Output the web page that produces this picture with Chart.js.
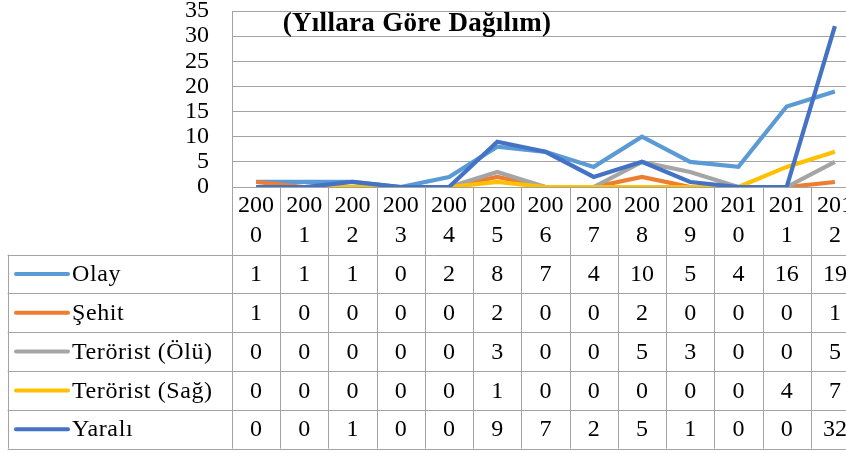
<!DOCTYPE html>
<html>
<head>
<meta charset="utf-8">
<script src="https://cdn.jsdelivr.net/npm/chart.js@4.4.0/dist/chart.umd.min.js"></script>
<style>
  html, body { margin: 0; padding: 0; background: #fff; overflow: hidden; }
  #wrap { position: relative; width: 859px; height: 453px; }
</style>
</head>
<body>
<div id="wrap"><canvas id="olayChart"></canvas></div>
<script>
// yıllar ve seriler
const years = ['2000', '2001', '2002', '2003', '2004', '2005', '2006', '2007', '2008', '2009', '2010', '2011', '2012'];
const olay = [1, 1, 1, 0, 2, 8, 7, 4, 10, 5, 4, 16, 19];
const sehit = [1, 0, 0, 0, 0, 2, 0, 0, 2, 0, 0, 0, 1];
const teroristOlu = [0, 0, 0, 0, 0, 3, 0, 0, 5, 3, 0, 0, 5];
const teroristSag = [0, 0, 0, 0, 0, 1, 0, 0, 0, 0, 0, 4, 7];
const yarali = [0, 0, 1, 0, 0, 9, 7, 2, 5, 1, 0, 0, 32];
const yMax = 35;
const yStep = 5;

const FONT = '"Liberation Serif", "DejaVu Serif", serif';
const GRID = '#a3a3a3';

const series = [
    { label: 'Olay', data: olay, color: '#5B9BD5' },
    { label: 'Şehit', data: sehit, color: '#ED7D31' },
    { label: 'Terörist (Ölü)', data: teroristOlu, color: '#A5A5A5' },
    { label: 'Terörist (Sağ)', data: teroristSag, color: '#FFC000' },
    { label: 'Yaralı', data: yarali, color: '#4472C4' }
];

// Excel tarzı veri tablosu + başlık
const dataTablePlugin = {
    id: 'dataTable',
    afterDraw(chart) {
        const ctx = chart.ctx;
        const area = chart.chartArea;
        const x = chart.scales.x;
        const n = years.length;
        const colW = (area.right - area.left) / n;
        const headerBottom = area.bottom + 67.6;
        const rowH = 38.8;
        const tableBottom = headerBottom + rowH * series.length;
        const legendLeft = 7.7;

        ctx.save();
        ctx.strokeStyle = GRID;
        ctx.lineWidth = 1;
        ctx.beginPath();
        // sütun çizgileri
        for (let i = 0; i <= n; i++) {
            const cx = Math.round(area.left + i * colW) + 0.5;
            ctx.moveTo(cx, area.bottom);
            ctx.lineTo(cx, tableBottom);
        }
        // satır çizgileri
        for (let r = 0; r <= series.length; r++) {
            const cy = Math.round(headerBottom + r * rowH) + 0.5;
            ctx.moveTo(legendLeft, cy);
            ctx.lineTo(area.right, cy);
        }
        ctx.moveTo(Math.round(legendLeft) + 0.5, headerBottom);
        ctx.lineTo(Math.round(legendLeft) + 0.5, tableBottom);
        ctx.stroke();

        ctx.fillStyle = '#000';
        ctx.font = '24px ' + FONT;
        ctx.textBaseline = 'middle';
        ctx.textAlign = 'center';
        // yıl başlıkları (iki satır)
        years.forEach((yr, i) => {
            const cx = x.getPixelForValue(i);
            ctx.fillText(yr.slice(0, 3), cx, area.bottom + 19);
            ctx.fillText(yr.slice(3), cx, area.bottom + 49);
        });
        // değerler ve lejant
        series.forEach((s, r) => {
            const cy = headerBottom + r * rowH + rowH / 2;
            ctx.textAlign = 'center';
            ctx.letterSpacing = '0px';
            s.data.forEach((v, i) => {
                ctx.fillText(String(v), x.getPixelForValue(i), cy + 1);
            });
            ctx.strokeStyle = s.color;
            ctx.lineWidth = 4;
            ctx.lineCap = 'round';
            ctx.beginPath();
            ctx.moveTo(16, cy);
            ctx.lineTo(68, cy);
            ctx.stroke();
            ctx.textAlign = 'left';
            ctx.letterSpacing = '0.6px';
            ctx.fillText(s.label, 72, cy + 1);
        });

        // başlık
        ctx.font = 'bold 27px ' + FONT;
        ctx.letterSpacing = '0.3px';
        ctx.textAlign = 'center';
        ctx.textBaseline = 'alphabetic';
        ctx.fillText('(Yıllara Göre Dağılım)', 417, 31);
        ctx.restore();
    }
};

new Chart(document.getElementById('olayChart'), {
    type: 'line',
    data: {
        labels: years,
        datasets: series.map((s, i) => ({
            label: s.label,
            data: s.data,
            borderColor: s.color,
            backgroundColor: s.color,
            borderWidth: 4.2,
            pointRadius: 0,
            tension: 0,
            order: series.length - i
        }))
    },
    options: {
        responsive: true,
        maintainAspectRatio: false,
        animation: false,
        layout: { padding: { top: 11, bottom: 266, left: 0, right: 0 } },
        plugins: { legend: { display: false }, tooltip: { enabled: false } },
        scales: {
            x: {
                display: false,
                offset: true
            },
            y: {
                min: 0,
                max: yMax,
                afterFit: s => { s.width = 232; s.paddingTop = 0; s.paddingBottom = 0; },
                border: { display: true, color: GRID },
                grid: { color: GRID, drawTicks: false },
                ticks: {
                    stepSize: yStep,
                    autoSkip: false,
                    color: '#000',
                    padding: 23,
                    font: { family: FONT, size: 24, lineHeight: 1 }
                }
            }
        }
    },
    plugins: [dataTablePlugin]
});
</script>
</body>
</html>
